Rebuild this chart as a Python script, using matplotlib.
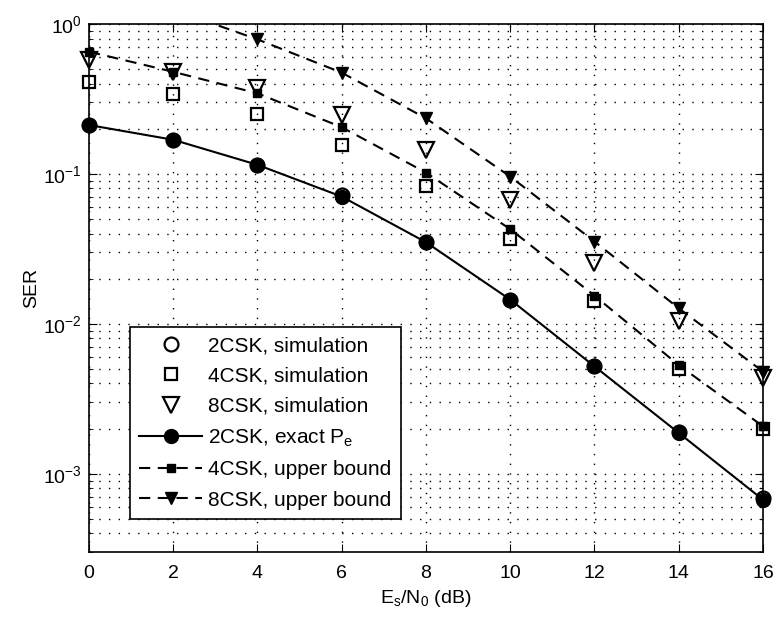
import numpy as np
import matplotlib
matplotlib.use("Agg")
import matplotlib.pyplot as plt
from matplotlib.ticker import LogLocator, NullFormatter

plt.rcParams["font.family"] = ["Liberation Sans", "DejaVu Sans"]
plt.rcParams["mathtext.default"] = "regular"

snr = [0, 2, 4, 6, 8, 10, 12, 14, 16]

# simulation points
sim_2csk = [0.212, 0.169, 0.115, 0.072, 0.035, 0.0145, 0.0052, 0.0019, 0.00069]
sim_4csk = [0.41, 0.34, 0.251, 0.156, 0.0836, 0.0369, 0.0141, 0.0050, 0.0020]
sim_8csk = [0.575, 0.48, 0.373, 0.247, 0.145, 0.067, 0.0254, 0.0104, 0.00434]

# analytic curves
exact_2csk = [0.212, 0.169, 0.115, 0.0706, 0.035, 0.0145, 0.0052, 0.00187, 0.00067]
bound_4csk = [0.654, 0.48, 0.345, 0.205, 0.102, 0.0428, 0.0154, 0.0053, 0.00207]
bound_8csk = [1.55, 1.25, 0.79, 0.474, 0.235, 0.096, 0.0354, 0.0127, 0.0048]

fig = plt.figure(figsize=(7.75, 6.17), dpi=100)
ax = fig.add_axes([0.1148, 0.1053, 0.8697, 0.8557])

dash = (5.4, 3.6)
ax.plot(snr, sim_2csk, "o", mfc="none", mec="k", mew=1.6, ms=10,
        label="2CSK, simulation", clip_on=False, zorder=3)
ax.plot(snr, sim_4csk, "s", mfc="none", mec="k", mew=1.6, ms=8,
        label="4CSK, simulation", clip_on=False, zorder=3)
ax.plot(snr, sim_8csk, "v", mfc="none", mec="k", mew=1.6, ms=11,
        label="8CSK, simulation", clip_on=False, zorder=3)
ax.plot(snr, exact_2csk, "k-o", lw=1.5, ms=10, mfc="k",
        label="2CSK, exact P$_e$", clip_on=False, zorder=4)
ax.plot(snr, bound_4csk, "k--s", lw=1.5, ms=6, mfc="k", dashes=dash,
        label="4CSK, upper bound", zorder=4)
ax.plot(snr, bound_8csk, "k--v", lw=1.5, ms=8, mfc="k", dashes=dash,
        label="8CSK, upper bound", zorder=4)
# markers of the bounds at the edges should not be cut
ax.plot(snr[-1:], bound_4csk[-1:], "ks", ms=6, clip_on=False, zorder=4)
ax.plot(snr[-1:], bound_8csk[-1:], "kv", ms=8, clip_on=False, zorder=4)
ax.plot(snr[:1], bound_4csk[:1], "ks", ms=6, clip_on=False, zorder=4)

ax.set_yscale("log")
ax.set_xlim(0, 16)
ax.set_ylim(3e-4, 1)
ax.set_xticks(snr)
ax.yaxis.set_major_locator(LogLocator(base=10, numticks=10))
ax.yaxis.set_minor_locator(LogLocator(base=10, subs=np.arange(2, 10), numticks=20))
ax.yaxis.set_minor_formatter(NullFormatter())

grid_ls = (0, (1, 6))
ax.grid(True, which="major", axis="both", color="k", ls=grid_ls, lw=1.0)
ax.grid(True, which="minor", axis="y", color="k", ls=grid_ls, lw=1.0)

ax.tick_params(which="both", direction="in", top=True, right=True,
               labelsize=14, colors="k")
ax.tick_params(axis="x", pad=9)
ax.tick_params(axis="y", pad=5)
ax.tick_params(which="major", length=6)
ax.tick_params(which="minor", length=3)
for s in ax.spines.values():
    s.set_linewidth(1.2)

ax.set_xlabel("E$_s$/N$_0$ (dB)", fontsize=14, labelpad=5)
ax.set_ylabel("SER", fontsize=14, labelpad=2)

leg = ax.legend(loc="lower left", bbox_to_anchor=(0.061, 0.0625),
                borderaxespad=0, fontsize=15, fancybox=False,
                framealpha=1, edgecolor="k", handlelength=3.0,
                labelspacing=0.55, handletextpad=0.3, borderpad=0.45)
leg.get_frame().set_linewidth(1.2)

fig.savefig("out.png", dpi=100)
